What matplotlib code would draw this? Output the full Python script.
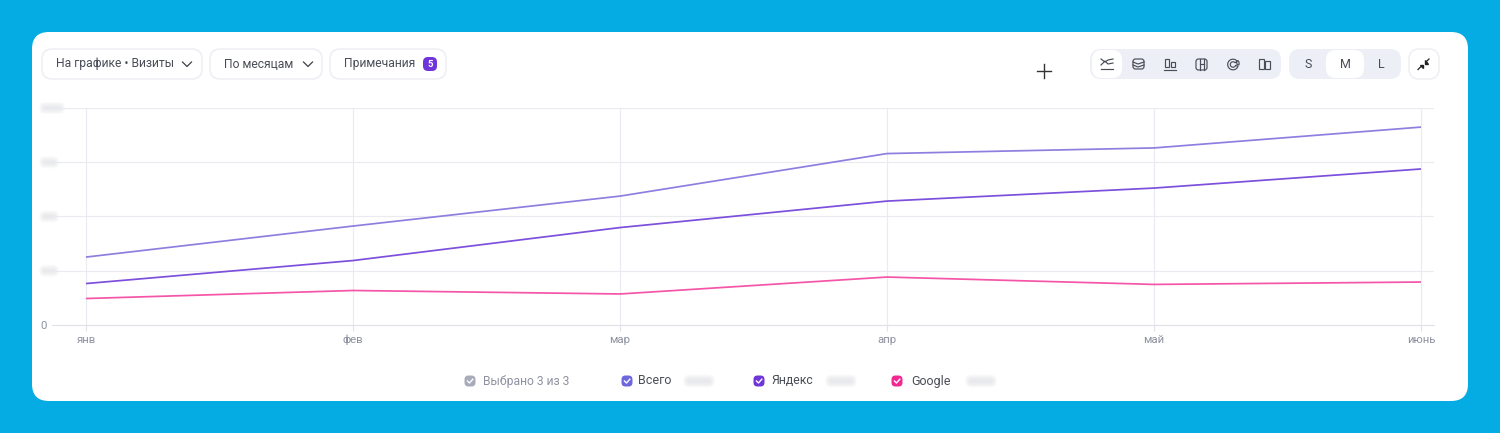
import matplotlib
matplotlib.use('Agg')
import matplotlib.pyplot as plt
from matplotlib.patches import FancyBboxPatch, Rectangle, Wedge

plt.rcParams['font.family'] = ['Roboto', 'DejaVu Sans']

# Values (y axis labels are blurred, 0-1000 assumed)
months = ['янв', 'фев', 'мар', 'апр', 'май', 'июнь']
total = [313, 456, 594, 790, 816, 912]
yandex = [191, 297, 449, 571, 631, 719]
google = [122, 159, 143, 221, 187, 198]
y_ticks = [0, 250, 500, 750, 1000]

W, H = 1500, 433
fig = plt.figure(figsize=(W / 100, H / 100), dpi=100, facecolor='#05abe3')

# overlay in pixel coordinates for the interface around the chart
ui = fig.add_axes([0, 0, 1, 1], zorder=0)
ui.set_xlim(0, W)
ui.set_ylim(H, 0)
ui.axis('off')


def box(x0, y0, x1, y1, r, fc, ec='none', lw=1.0, z=1):
    p = FancyBboxPatch((x0 + r, y0 + r), x1 - x0 - 2 * r, y1 - y0 - 2 * r,
                       boxstyle=f'round,pad={r},rounding_size={r}',
                       fc=fc, ec=ec, lw=lw, zorder=z)
    ui.add_patch(p)


box(32, 32, 1468, 401, 17, 'white')

# left buttons
for x0, x1 in [(42, 202), (210, 322), (330, 446)]:
    box(x0, 49, x1, 79, 10, 'white', '#eef0f4', 1.2, z=2)
text_c = '#4a4d57'
ui.text(56, 64, 'На графике • Визиты', fontsize=8.7, color=text_c, va='center', zorder=3)
ui.text(224, 64, 'По месяцам', fontsize=8.7, color=text_c, va='center', zorder=3)
ui.text(344, 64, 'Примечания', fontsize=8.7, color=text_c, va='center', zorder=3)
for cx in [187, 308]:
    ui.plot([cx - 4.5, cx, cx + 4.5], [62, 66.5, 62], color='#3d3f48', lw=0.9, zorder=3)
box(423, 57, 437, 71, 5, '#6f35d8', z=3)
ui.text(430, 64.2, '5', fontsize=6.8, color='white', fontweight='bold', ha='center', va='center', zorder=4)

# plus cursor
ui.plot([1037, 1051], [71, 71], color='#333333', lw=1.0, zorder=3)
ui.plot([1044, 1044], [64, 78], color='#333333', lw=1.0, zorder=3)

# right button groups
box(1090, 49, 1281, 79, 11, '#eceff5', z=2)
box(1092, 50, 1122, 78, 10, 'white', z=3)
box(1289, 49, 1401, 79, 11, '#eceff5', z=2)
box(1326, 50, 1364, 78, 10, 'white', z=3)
box(1409, 49, 1439, 79, 10, 'white', '#eef0f4', 1.2, z=2)
for label, cx in [('S', 1308), ('M', 1345), ('L', 1381)]:
    ui.text(cx, 64.3, label, fontsize=9, color=text_c, ha='center', va='center', zorder=4)

ic = '#4a4d57'
ilw = 0.85
# line icon
ui.plot([1101, 1105, 1108, 1113], [59, 62, 60, 59], color=ic, lw=ilw, zorder=4)
ui.plot([1101, 1105, 1108, 1113], [65, 61, 64, 63], color=ic, lw=ilw, zorder=4)
ui.plot([1101, 1113], [69, 69], color=ic, lw=ilw, zorder=4)
# stacked icon
box(1133, 59, 1144, 69, 2.5, 'none', ic, ilw, z=4)
ui.plot([1133, 1138, 1144], [62, 64, 62], color=ic, lw=ilw, zorder=4)
ui.plot([1133, 1138, 1144], [65, 67, 65], color=ic, lw=ilw, zorder=4)
# bars with baseline
for x0, y0 in [(1165, 59), (1171, 62)]:
    ui.add_patch(Rectangle((x0, y0), 4, 8 - (y0 - 59), fc='none', ec=ic, lw=ilw, zorder=4))
ui.plot([1164, 1176], [69.5, 69.5], color=ic, lw=ilw, zorder=4)
# tree map
box(1196, 59, 1207, 70, 2.5, 'none', ic, ilw, z=4)
ui.plot([1200, 1200], [59, 70], color=ic, lw=ilw, zorder=4)
ui.plot([1203.5, 1203.5], [59, 70], color=ic, lw=ilw, zorder=4)
ui.plot([1200, 1203.5], [64, 64], color=ic, lw=ilw, zorder=4)
# pie
ui.add_patch(Wedge((1233, 64.5), 5.3, 20, 320, width=2.6, fc='none', ec=ic, lw=ilw, zorder=4))
ui.add_patch(Wedge((1234.5, 63.5), 4.6, 320, 20, width=2.2, fc='none', ec=ic, lw=ilw, zorder=4))
# bars
for x0, y0 in [(1259, 59), (1265, 61)]:
    ui.add_patch(Rectangle((x0, y0), 5, 10 - (y0 - 59), fc='none', ec=ic, lw=ilw, zorder=4))
# collapse arrows
ui.plot([1418, 1421.5], [69.5, 66], color='#222222', lw=0.9, zorder=4)
ui.plot([1429, 1426], [59, 62], color='#222222', lw=0.9, zorder=4)
ui.fill([1419.5, 1423, 1423], [64.5, 64.5, 68], color='#222222', zorder=4)
ui.fill([1424.5, 1424.5, 1428], [60, 63.5, 63.5], color='#222222', zorder=4)

# legend strip
legend_items = [(470, 483, 'Выбрано 3 из 3', '#a8acba', '#8e92a0', 8.7),
                (627, 638, 'Всего', '#6f68dc', text_c, 9.0),
                (759, 771, 'Яндекс', '#6f35d8', text_c, 8.8),
                (897, 911, 'Google', '#f02a92', text_c, 9.0)]
for cx, tx, label, col, tc, fs in legend_items:
    box(cx - 5.5, 375.5, cx + 5.5, 386.5, 4, col, z=3)
    ui.plot([cx - 2.5, cx - 0.5, cx + 2.8], [381, 383, 379.2], color='white', lw=1.0, zorder=4)
    ui.text(tx, 381, label, fontsize=fs, color=tc, va='center', zorder=4)

# chart area, placed so the months and grid land on the reference pixels
left, right, top, bottom = 52, 1434, 108, 325
ax = fig.add_axes([left / W, 1 - bottom / H, (right - left) / W, (bottom - top) / H],
                  zorder=2, facecolor='none')
ax.plot(range(6), total, color='#8f7ee0', lw=1.25, solid_capstyle='butt', zorder=3)
ax.plot(range(6), yandex, color='#7c4fdc', lw=1.25, solid_capstyle='butt', zorder=3)
ax.plot(range(6), google, color='#f455a8', lw=1.25, solid_capstyle='butt', zorder=3)
ax.set_xlim(-34 / 267, 5 + 13 / 267)
ax.set_ylim(0, 1000)
ax.set_xticks(range(6))
ax.set_xticklabels(months, va='baseline')
ax.set_yticks(y_ticks)
ax.set_yticklabels(['0', '', '', '', ''])
ax.grid(True, color='#eaebf0', lw=0.85)
ax.set_axisbelow(True)
for s in ['top', 'right', 'left']:
    ax.spines[s].set_visible(False)
ax.spines['bottom'].set_color('#e0e2e9')
ax.tick_params(axis='x', length=4, width=0.8, color='#e2e3ea', labelsize=8.2,
               labelcolor='#8e92a0', pad=9)
ax.tick_params(axis='y', length=0, labelsize=8.2, labelcolor='#8e92a0', pad=4)


def smear(cx, cy, w, h, col='#d4d6dc', n=6):
    # hidden numbers in the screenshot: soft grey smear
    for k in range(n):
        grow = (n - 1 - k) * 1.0
        box(cx - w / 2 - grow, cy - h / 2 - grow, cx + w / 2 + grow, cy + h / 2 + grow,
            h / 2 + grow, col + '1a', z=5)


# blurred y labels and legend numbers
for tick in y_ticks[1:]:
    width = 16 if tick == 1000 else 10
    smear(44 + width / 2, bottom - tick / 1000 * (bottom - top), width, 2)
for cx in [699, 841, 981]:
    smear(cx, 381, 22, 3)

fig.savefig('out.png', dpi=100, facecolor=fig.get_facecolor())
